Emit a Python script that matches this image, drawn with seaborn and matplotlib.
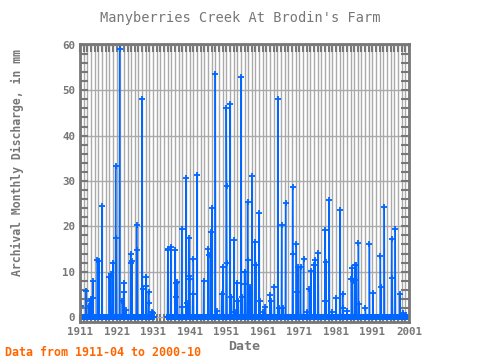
"""
Monthly discharge, Manyberries Creek At Brodin's Farm
"""

import numpy as np
import pandas as pd
import seaborn as sns
import matplotlib.pyplot as plt
from matplotlib.ticker import MultipleLocator

# months with visible discharge (all other months read as ~0)
peak_months = [
    '1911-04', '1912-09', '1913-05', '1913-09', '1914-01', '1914-07', '1914-08',
    '1915-10', '1916-03', '1917-01', '1919-01', '1919-06', '1920-01', '1920-10',
    '1920-12', '1921-11', '1922-08', '1922-12', '1923-02', '1923-08', '1924-11',
    '1924-12', '1925-04', '1926-07', '1926-09', '1928-01', '1928-03', '1929-01',
    '1929-03', '1929-10', '1929-11', '1930-08', '1931-02',
    '1935-01', '1935-02', '1935-11', '1937-01', '1937-03', '1937-05', '1937-09',
    '1938-11', '1939-01', '1940-01', '1940-04', '1940-10', '1940-11', '1941-01',
    '1941-11', '1942-01', '1943-01', '1944-11', '1946-01', '1946-03', '1946-10',
    '1947-02', '1948-01', '1948-07', '1949-10', '1950-03', '1951-01', '1951-02',
    '1951-03', '1952-01', '1952-06', '1953-02', '1953-05', '1954-01', '1954-05',
    '1955-02', '1955-05', '1956-01', '1956-02', '1956-04', '1956-11', '1957-01',
    '1957-07', '1958-02', '1958-11', '1959-02', '1960-01', '1960-04', '1961-03',
    '1961-09', '1963-01', '1963-05', '1964-03', '1965-03', '1965-06', '1966-03',
    '1966-08', '1967-04', '1969-03', '1969-04', '1970-03', '1970-06', '1970-08',
    '1971-05', '1972-03', '1973-03', '1973-10', '1974-03', '1975-01', '1975-05',
    '1976-03', '1978-01', '1978-02', '1978-05', '1979-03', '1980-01', '1981-01',
    '1982-02', '1982-11', '1983-01', '1984-02', '1985-04', '1985-06', '1986-02',
    '1986-03', '1986-06', '1986-08', '1987-03', '1987-05', '1989-02', '1990-03',
    '1991-03', '1993-03', '1993-05', '1994-04', '1996-04', '1996-06', '1997-04',
    '1998-08', '1999-04', '2000-04',
]
peak_values = [
    2.5, 5.8, 2.5, 3.5, 4.0, 8.0, 4.2,
    12.5, 12.3, 24.5, 8.8, 9.5, 11.8, 33.3,
    17.5, 59.0, 3.5, 5.5, 7.5, 1.5, 13.8,
    11.8, 12.3, 20.3, 14.7, 48.0, 6.2, 8.8,
    6.8, 5.5, 3.0, 1.2, 0.8,
    15.0, 14.7, 15.5, 14.7, 7.5, 4.5, 7.8,
    19.3, 2.2, 30.7, 3.0, 17.5, 9.0, 8.4,
    5.0, 12.9, 31.4, 8.0, 15.0, 13.6, 18.8,
    24.0, 53.5, 1.3, 5.1, 11.0, 46.0, 28.8,
    11.8, 47.0, 4.5, 17.0, 1.0, 7.5, 3.6,
    53.0, 4.4, 10.0, 7.3, 10.0, 25.3, 12.5,
    6.6, 31.2, 16.6, 11.4, 23.0, 3.5, 1.0,
    2.1, 4.8, 3.6, 6.6, 48.0, 2.0, 20.3,
    2.0, 25.1, 28.7, 14.0, 16.0, 5.5, 11.0,
    11.0, 12.7, 1.0, 6.2, 10.1, 11.4, 12.5,
    14.1, 19.2, 3.6, 12.1, 25.9, 1.0, 4.2,
    23.5, 5.1, 2.0, 1.3, 8.4, 10.8, 7.9,
    11.4, 8.1, 11.4, 16.4, 2.9, 2.0, 16.0,
    5.3, 13.5, 6.6, 24.2, 17.3, 8.7, 19.3,
    5.0, 0.8, 0.4,
]
gap_start, gap_end = '1931-04', '1934-08'   # no record
first_month, last_month = '1911-04', '2000-10'

months = pd.period_range(first_month, last_month, freq='M')
data = pd.DataFrame({'month': months, 'value': 0.0})
data = data.set_index('month')
data.loc[pd.PeriodIndex(peak_months, freq='M'), 'value'] = peak_values
gap = (data.index >= pd.Period(gap_start, 'M')) & (data.index <= pd.Period(gap_end, 'M'))
data['segment'] = np.where(data.index < pd.Period(gap_start, 'M'), 0, 1)
data = data[~gap].reset_index()
data['year'] = data['month'].dt.year + (data['month'].dt.month - 1) / 12

grey = '#777777'
blue = '#0066ff'
fig = plt.figure(figsize=(4.8, 3.6), dpi=100)
ax = fig.add_axes([80 / 480, 1 - 322 / 360, 329 / 480, 278 / 360])

sns.lineplot(data=data, x='year', y='value', units='segment', estimator=None,
             color=blue, lw=1.0, marker='+', markersize=5, mec=blue,
             markeredgewidth=1.3, ax=ax)

ax.set_xlim(1911, 2001)
ax.set_ylim(-1.1, 60.2)
ax.set_xticks(np.arange(1911, 2002, 10))
ax.xaxis.set_minor_locator(MultipleLocator(1))
ax.set_yticks(np.arange(0, 61, 10))
ax.yaxis.set_minor_locator(MultipleLocator(2))
ax.grid(which='major', color='#aaaaaa', lw=1)
ax.grid(which='minor', axis='x', color='#aaaaaa', lw=1)
ax.set_axisbelow(True)
ax.tick_params(which='both', direction='in', top=True, right=True,
               color=grey, width=1.5, labelcolor=grey, labelsize=7.8)
ax.tick_params(which='major', length=6)
ax.tick_params(which='minor', length=6)
for sp in ax.spines.values():
    sp.set_color(grey)
    sp.set_linewidth(2)
for lab in ax.get_xticklabels() + ax.get_yticklabels():
    lab.set_family('DejaVu Sans Mono')
    lab.set_fontweight('bold')

ax.set_xlabel('Date', family='DejaVu Sans Mono', fontsize=9.5, color=grey,
              fontweight='bold', labelpad=2)
ax.set_ylabel('Archival Monthly Discharge, in mm', family='DejaVu Sans Mono',
              fontsize=8.3, color=grey, fontweight='bold')
ax.yaxis.set_label_coords(-0.17, 0.572)
fig.text(0.5, 0.95, "Manyberries Creek At Brodin's Farm", ha='center', va='center',
         family='DejaVu Sans Mono', fontsize=9.8, color=grey)
fig.text(0.01, 0.022, 'Data from 1911-04 to 2000-10', ha='left', va='center',
         family='DejaVu Sans Mono', fontsize=8.4, color='#ff6600',
         fontweight='bold')

plt.savefig('out.png', dpi=100)
